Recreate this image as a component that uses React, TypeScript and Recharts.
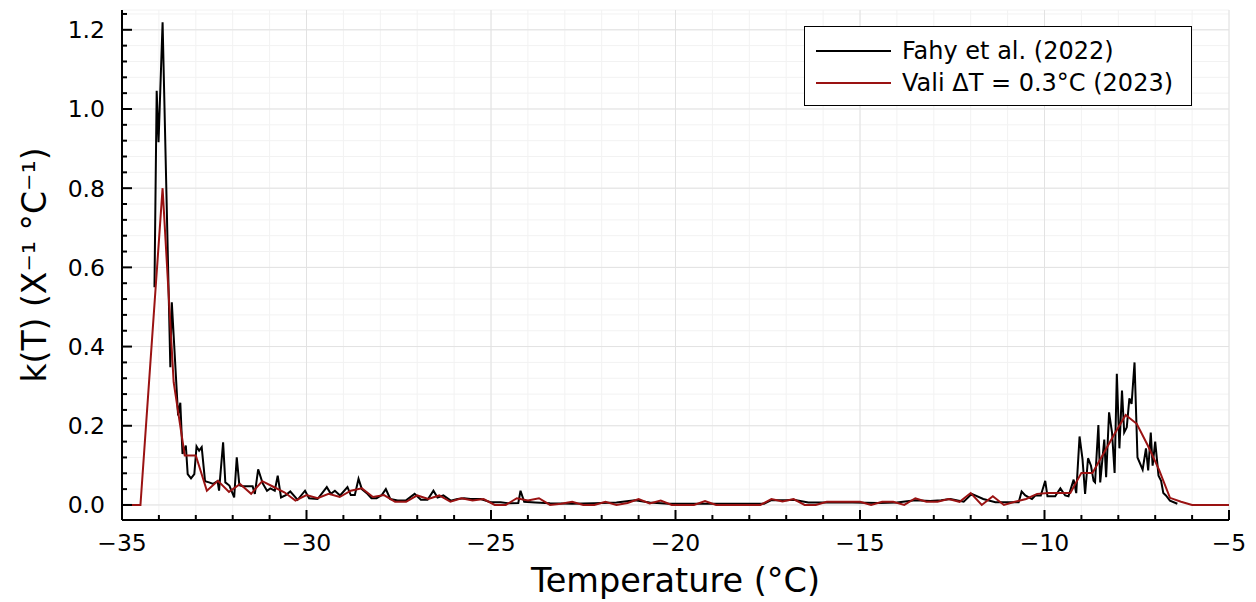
import React from 'react'
import {
  LineChart, Line, XAxis, YAxis, CartesianGrid, ReferenceLine, Legend,
} from 'recharts'

// ── data ─────────────────────────────────────────────────────────────

// Fahy et al. (2022): [temperature °C, k(T)]
const FAHY: [number, number][] = [
  [-34.12, 0.55], [-34.06, 1.046], [-34.01, 0.916], [-33.9, 1.219], [-33.69, 0.348],
  [-33.65, 0.512], [-33.48, 0.226], [-33.42, 0.258], [-33.36, 0.129], [-33.27, 0.15],
  [-33.22, 0.078], [-33.13, 0.067], [-33.04, 0.078], [-32.98, 0.148], [-32.91, 0.137],
  [-32.84, 0.146], [-32.75, 0.06], [-32.64, 0.057], [-32.53, 0.053], [-32.41, 0.06],
  [-32.37, 0.036], [-32.26, 0.158], [-32.2, 0.057], [-32.09, 0.049], [-31.96, 0.019],
  [-31.89, 0.12], [-31.82, 0.05], [-31.73, 0.047], [-31.6, 0.047], [-31.46, 0.047],
  [-31.4, 0.028], [-31.31, 0.09], [-31.19, 0.055], [-31.07, 0.036], [-30.98, 0.042],
  [-30.86, 0.036], [-30.78, 0.074], [-30.69, 0.019], [-30.56, 0.025], [-30.44, 0.034],
  [-30.24, 0.013], [-30.04, 0.036], [-29.93, 0.017], [-29.7, 0.015], [-29.45, 0.045],
  [-29.34, 0.028], [-29.23, 0.036], [-29.09, 0.024], [-28.89, 0.045], [-28.8, 0.025],
  [-28.69, 0.025], [-28.59, 0.066], [-28.5, 0.04], [-28.35, 0.028], [-28.24, 0.017],
  [-28.1, 0.017], [-27.96, 0.025], [-27.85, 0.04], [-27.73, 0.015], [-27.53, 0.011],
  [-27.31, 0.011], [-27.07, 0.028], [-26.9, 0.013], [-26.72, 0.013], [-26.56, 0.036],
  [-26.45, 0.019], [-26.29, 0.024], [-26.09, 0.011], [-25.91, 0.015], [-25.73, 0.017],
  [-25.55, 0.015], [-25.28, 0.015], [-25.01, 0.007], [-24.74, 0.007], [-24.5, 0.004],
  [-24.26, 0.005], [-24.2, 0.036], [-24.1, 0.008], [-23.8, 0.006], [-23.4, 0.004],
  [-22.8, 0.003], [-22.2, 0.004], [-21.6, 0.006], [-21.1, 0.012], [-20.7, 0.006],
  [-20.2, 0.003], [-19.6, 0.003], [-18.9, 0.003], [-18.2, 0.003], [-17.6, 0.003],
  [-17.4, 0.012], [-17.0, 0.012], [-16.8, 0.013], [-16.4, 0.006], [-15.9, 0.006],
  [-15.2, 0.006], [-14.5, 0.005], [-14.0, 0.006], [-13.5, 0.012], [-13.1, 0.01],
  [-12.8, 0.012], [-12.55, 0.015], [-12.19, 0.008], [-11.97, 0.028], [-11.66, 0.015],
  [-11.33, 0.007], [-10.7, 0.007], [-10.62, 0.034], [-10.52, 0.024], [-10.34, 0.015],
  [-10.25, 0.024], [-10.1, 0.024], [-9.98, 0.061], [-9.92, 0.022], [-9.71, 0.022],
  [-9.57, 0.042], [-9.44, 0.024], [-9.35, 0.022], [-9.21, 0.064], [-9.14, 0.03],
  [-9.05, 0.173], [-8.97, 0.116], [-8.9, 0.028], [-8.82, 0.118], [-8.74, 0.099],
  [-8.67, 0.061], [-8.63, 0.057], [-8.54, 0.202], [-8.49, 0.057], [-8.38, 0.165],
  [-8.33, 0.07], [-8.25, 0.234], [-8.17, 0.183], [-8.1, 0.081], [-8.04, 0.331],
  [-7.97, 0.143], [-7.9, 0.289], [-7.84, 0.183], [-7.77, 0.196], [-7.7, 0.269],
  [-7.64, 0.255], [-7.56, 0.36], [-7.48, 0.12], [-7.34, 0.089], [-7.25, 0.143],
  [-7.19, 0.087], [-7.12, 0.183], [-7.07, 0.099], [-7.0, 0.16], [-6.91, 0.074],
  [-6.84, 0.061], [-6.78, 0.03], [-6.71, 0.024], [-6.6, 0.011], [-6.4, 0.003],
]

// Vali ΔT = 0.3°C (2023): bins of 0.3 °C starting at -35.1
const VALI_START = -35.1
const VALI_STEP = 0.3
const VALI_K = [
  0, 0, 0, 0.40, 0.80, 0.31, 0.125, 0.125, 0.036, 0.061,
  0.033, 0.053, 0.028, 0.060, 0.046, 0.032, 0.011, 0.025, 0.017, 0.028,
  0.020, 0.036, 0.042, 0.020, 0.025, 0.008, 0.008, 0.024, 0.015, 0.024,
  0.008, 0.017, 0.011, 0.015, 0, 0, 0.017, 0.011, 0.017, 0,
  0.003, 0.008, 0, 0, 0.008, 0, 0.005, 0.015, 0.004, 0.011,
  0, 0, 0, 0.010, 0, 0, 0, 0, 0, 0.015,
  0.009, 0.015, 0, 0, 0.008, 0.008, 0.008, 0.008, 0, 0.008,
  0.008, 0, 0.017, 0.008, 0.008, 0.015, 0.008, 0.030, 0, 0.022,
  0, 0.008, 0.015, 0.028, 0.030, 0.030, 0.030, 0.081, 0.081, 0.130,
  0.180, 0.227, 0.205, 0.150, 0.090, 0.018, 0.008, 0, 0, 0,
  0, 0,
]

const X_MAJOR = [-35, -30, -25, -20, -15, -10, -5]
const X_TICKS = Array.from({ length: 31 }, (_, i) => -35 + i)
const Y_MAJOR = [0, 0.2, 0.4, 0.6, 0.8, 1.0, 1.2]
const Y_TICKS = Array.from({ length: 32 }, (_, i) => +(i * 0.04).toFixed(2))

const fahyData = FAHY.map(([t, k]) => ({ t, k }))
const valiData = VALI_K.map((k, i) => ({ t: +(VALI_START + i * VALI_STEP).toFixed(1), k }))

const FONT = "'DejaVu Sans', sans-serif"
const RED = '#9a1212'
const X_MARGIN = 14
const Y_MARGIN = 17

const fmtX = (v: number) => (v < 0 ? '\u2212' + Math.abs(v) : String(v))

// ticks point into the plot, labels only on majors
function XTick(props: any) {
  const { x, y, payload } = props
  const v = payload.value
  const major = X_MAJOR.includes(v)
  const axisY = y - X_MARGIN
  return (
    <g>
      <line x1={x} x2={x} y1={axisY} y2={axisY - (major ? 10 : 5)} stroke="#000" strokeWidth={2} />
      {major && (
        <text x={x} y={y} dy="0.72em" textAnchor="middle" fontFamily={FONT} fontSize={23.5} fill="#000">
          {fmtX(v)}
        </text>
      )}
    </g>
  )
}

function YTick(props: any) {
  const { x, y, payload } = props
  const v = payload.value
  const major = Y_MAJOR.some(m => Math.abs(m - v) < 1e-6)
  const axisX = x + Y_MARGIN
  return (
    <g>
      <line x1={axisX} x2={axisX + (major ? 10 : 5)} y1={y} y2={y} stroke="#000" strokeWidth={2} />
      {major && (
        <text x={x} y={y} dy="0.36em" textAnchor="end" fontFamily={FONT} fontSize={23.5} fill="#000">
          {v.toFixed(1)}
        </text>
      )}
    </g>
  )
}

function XLabel({ viewBox }: any) {
  const cx = viewBox.x + viewBox.width / 2
  const cy = viewBox.y + 60
  return (
    <text x={cx} y={cy} dy="0.35em" textAnchor="middle" fontFamily={FONT} fontSize={33.5} fill="#000">
      Temperature (°C)
    </text>
  )
}

function YLabel({ viewBox }: any) {
  const cx = 34
  const cy = viewBox.y + viewBox.height / 2
  return (
    <text x={cx} y={cy} dy="0.35em" textAnchor="middle" fontFamily={FONT} fontSize={33} fill="#000"
      transform={`rotate(-90 ${cx} ${cy})`}>
      k(T) (X⁻¹ °C⁻¹)
    </text>
  )
}

function LegendBox() {
  const rows = [
    { label: 'Fahy et al. (2022)', color: '#000' },
    { label: 'Vali ΔT = 0.3°C (2023)', color: RED },
  ]
  return (
    <div style={{
      border: '1.5px solid #000', background: '#fff', width: 388, height: 80,
      boxSizing: 'border-box', padding: '8px 0 0 11px', fontFamily: FONT,
    }}>
      {rows.map(r => (
        <div key={r.label} style={{ display: 'flex', alignItems: 'center', height: 32 }}>
          <svg width={75} height={4} style={{ marginRight: 11 }}>
            <line x1={0} x2={75} y1={2} y2={2} stroke={r.color} strokeWidth={2} />
          </svg>
          <span style={{ fontSize: 24, color: '#000', whiteSpace: 'nowrap' }}>{r.label}</span>
        </div>
      ))}
    </div>
  )
}

export default function App() {
  return (
    <div style={{ position: 'absolute', left: 0, top: 0, background: '#fff' }}>
      <LineChart width={1256} height={602} margin={{ top: 10, right: 27, bottom: 0, left: 0 }}>
        <CartesianGrid stroke="#f2f2f2" strokeWidth={1} />
        {X_MAJOR.map(v => (
          <ReferenceLine key={'vx' + v} x={v} stroke="#e2e2e2" strokeWidth={1} />
        ))}
        {Y_MAJOR.map(v => (
          <ReferenceLine key={'hy' + v} y={v} stroke="#e2e2e2" strokeWidth={1} />
        ))}
        <XAxis
          dataKey="t"
          type="number"
          domain={[-35, -5]}
          ticks={X_TICKS}
          interval={0}
          allowDataOverflow
          height={82}
          tickSize={0}
          tickMargin={X_MARGIN}
          tick={<XTick />}
          axisLine={{ stroke: '#000', strokeWidth: 2 }}
          label={<XLabel />}
        />
        <XAxis
          xAxisId="top"
          orientation="top"
          type="number"
          domain={[-35, -5]}
          height={0}
          tick={false}
          tickLine={false}
          axisLine={{ stroke: '#000', strokeWidth: 2 }}
        />
        <YAxis
          type="number"
          domain={[-0.038, 1.25]}
          ticks={Y_TICKS}
          interval={0}
          allowDataOverflow
          width={122}
          tickSize={0}
          tickMargin={Y_MARGIN}
          tick={<YTick />}
          axisLine={{ stroke: '#000', strokeWidth: 2 }}
          label={<YLabel />}
        />
        <YAxis
          yAxisId="right"
          orientation="right"
          type="number"
          domain={[-0.038, 1.25]}
          width={0}
          tick={false}
          tickLine={false}
          axisLine={{ stroke: '#000', strokeWidth: 2 }}
        />
        <Line
          data={fahyData}
          dataKey="k"
          name="Fahy et al. (2022)"
          type="linear"
          stroke="#000"
          strokeWidth={2}
          dot={false}
          isAnimationActive={false}
        />
        <Line
          data={valiData}
          dataKey="k"
          name="Vali ΔT = 0.3°C (2023)"
          type="linear"
          stroke={RED}
          strokeWidth={2}
          dot={false}
          isAnimationActive={false}
        />
        <Legend
          layout="vertical"
          align="center"
          verticalAlign="middle"
          content={<LegendBox />}
          wrapperStyle={{ left: 804, top: 26, width: 'auto', height: 'auto' }}
        />
      </LineChart>
    </div>
  )
}
